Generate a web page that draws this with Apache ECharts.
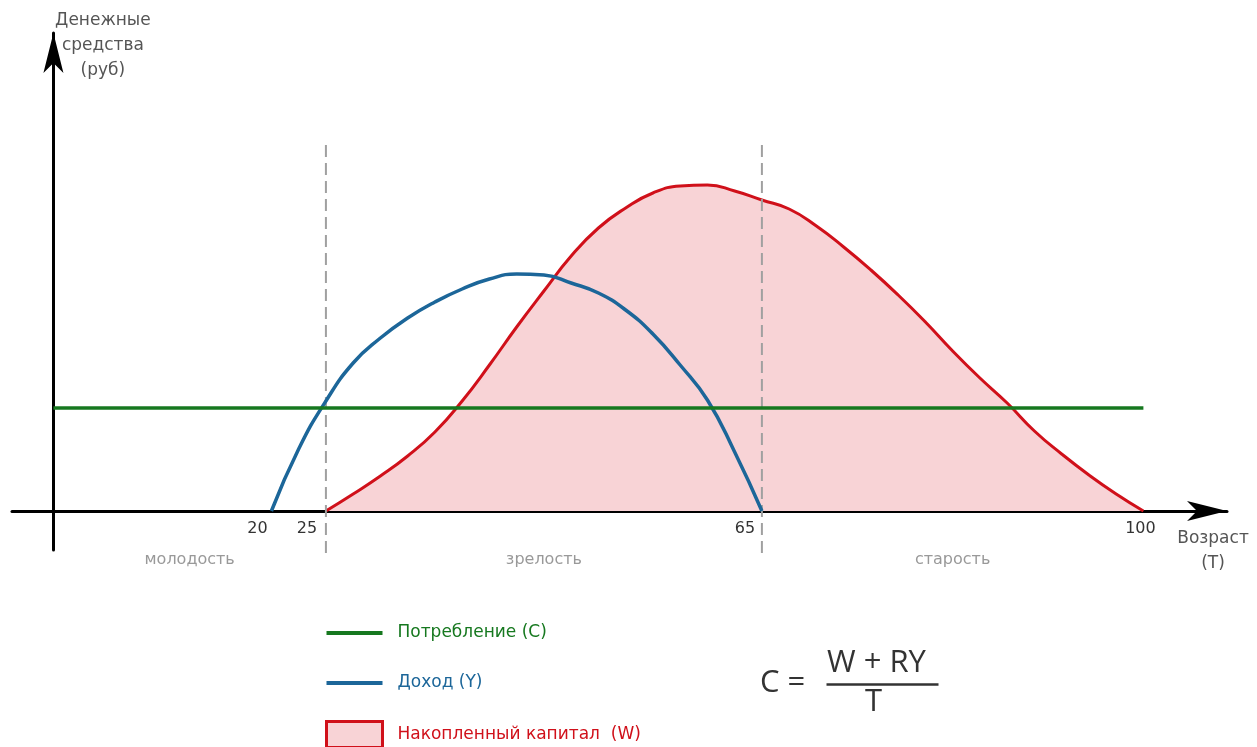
<!DOCTYPE html>
<html>
<head>
<meta charset="utf-8">
<script src="https://cdn.jsdelivr.net/npm/echarts@6/dist/echarts.min.js"></script>
<style>
  html, body { margin: 0; padding: 0; background: #fff; }
  #chart { width: 1257px; height: 747px; }
</style>
</head>
<body>
<div id="chart"></div>
<script>
// возраст (лет) и денежные средства (условные единицы)
const consumptionAge = [0, 100];
const consumptionVal = [103, 103];

const incomeAge = [20, 22.5, 25, 27.5, 30, 32.5, 35, 37.5, 40, 42.5, 45, 47.5, 50, 52.5, 55, 57.5, 60, 62.5, 65];
const incomeVal = [0, 62, 110, 148, 173, 193, 209, 222, 232, 237, 236, 228, 218, 201, 177, 146, 111, 59, 0];

const capitalAge = [25, 27.5, 30, 32.5, 35, 37.5, 40, 42.5, 45, 47.5, 50, 52.5, 55, 57.5, 60, 62.5, 65,
  67.5, 70, 72.5, 75, 77.5, 80, 82.5, 85, 87.5, 90, 92.5, 95, 97.5, 100];
const capitalVal = [0, 17, 35, 55, 79, 110, 146, 184, 220, 255, 283, 303, 318, 325, 326, 320, 311,
  302, 285, 264, 241, 216, 189, 160, 133, 108, 80, 57, 36, 17, 0];

const tickAges = [20, 25, 65, 100];
const boundaryAges = [25, 65];
const phaseNames = ["молодость", "зрелость", "старость"];
const phaseAges = [12.5, 45, 82.5];

const GREEN = "#16781f";
const BLUE = "#1c6699";
const RED = "#d0101a";
const PINK = "#f8d3d6";
const FONT = "DejaVu Sans";

const zip = (xs, ys) => xs.map((x, i) => [x, ys[i]]);

// сдвиг подписей делений влево, как на рисунке
const tickStyle = { 20: "a", 25: "b", 65: "c", 100: "d" };
const tickText = { fontFamily: FONT, fontSize: 16, color: "#333" };

const chart = echarts.init(document.getElementById("chart"));

const dashSeries = boundaryAges.map((age) => ({
  type: "line",
  silent: true,
  clip: false,
  symbol: "none",
  z: 3,
  data: [[age, 366], [age, -44]],
  lineStyle: { color: "#a0a0a0", width: 2, type: [12, 6] },
}));

chart.setOption({
  animation: false,
  grid: { left: 12, right: 30, top: 33, bottom: 197, containLabel: false, outerBoundsMode: "none" },
  legend: {
    orient: "vertical",
    left: 325,
    top: 620,
    height: 140,
    padding: 0,
    itemWidth: 56,
    itemHeight: 26,
    itemGap: 24,
    selectedMode: false,
    textStyle: { fontFamily: FONT, fontSize: 17, lineHeight: 26, padding: [0, 0, 0, 10] },
    data: [
      { name: "Потребление (С)", icon: "path://M0 0H56V4H0Z", textStyle: { color: GREEN } },
      { name: "Доход (Y)", icon: "path://M0 0H56V4H0Z", textStyle: { color: BLUE } },
      {
        name: "Накопленный капитал  (W)",
        icon: "rect",
        itemStyle: { color: PINK, borderColor: RED, borderWidth: 3 },
        textStyle: { color: RED },
      },
    ],
  },
  xAxis: {
    type: "value",
    min: -3.8,
    max: 107.67,
    name: "Возраст\n(T)",
    nameLocation: "end",
    nameGap: -14,
    nameTextStyle: {
      fontFamily: FONT, fontSize: 17, color: "#555", lineHeight: 25,
      align: "center", verticalAlign: "top", padding: [15, 0, 0, 0],
    },
    axisLine: {
      onZero: true,
      symbol: ["none", "arrow"],
      symbolSize: [15, 40],
      lineStyle: { color: "#000", width: 3 },
    },
    axisTick: { show: false },
    splitLine: { show: false },
    axisLabel: {
      customValues: tickAges,
      margin: -29,
      fontFamily: FONT,
      fontSize: 16,
      formatter: (v) => "{" + tickStyle[v] + "|" + v + "}",
      rich: {
        a: { ...tickText, padding: [0, 28, 0, 0] },
        b: { ...tickText, padding: [0, 38, 0, 0] },
        c: { ...tickText, padding: [0, 34, 0, 0] },
        d: { ...tickText, padding: [0, 6, 0, 0] },
      },
    },
  },
  yAxis: {
    type: "value",
    min: -39,
    max: 478,
    name: "Денежные\nсредства\n(руб)",
    nameLocation: "end",
    nameGap: 25,
    nameTextStyle: {
      fontFamily: FONT, fontSize: 17, color: "#555", lineHeight: 25,
      align: "center", verticalAlign: "top", padding: [0, 0, 0, 99],
    },
    axisLine: {
      onZero: true,
      symbol: ["none", "arrow"],
      symbolSize: [15, 40],
      lineStyle: { color: "#000", width: 3 },
    },
    axisTick: { show: false },
    axisLabel: { show: false },
    splitLine: { show: false },
  },
  series: [
    ...dashSeries,
    {
      name: "Накопленный капитал  (W)",
      type: "line",
      smooth: 0.5,
      symbol: "none",
      z: 2,
      data: zip(capitalAge, capitalVal),
      lineStyle: { color: RED, width: 3 },
      itemStyle: { color: RED },
      areaStyle: { color: PINK, opacity: 1 },
    },
    {
      name: "Доход (Y)",
      type: "line",
      smooth: 0.5,
      symbol: "none",
      z: 4,
      data: zip(incomeAge, incomeVal),
      lineStyle: { color: BLUE, width: 3.5 },
      itemStyle: { color: BLUE },
    },
    {
      name: "Потребление (С)",
      type: "line",
      symbol: "none",
      z: 5,
      data: zip(consumptionAge, consumptionVal),
      lineStyle: { color: GREEN, width: 3.5 },
      itemStyle: { color: GREEN },
    },
    {
      type: "scatter",
      silent: true,
      clip: false,
      symbolSize: 0,
      data: phaseNames.map((n, i) => ({ name: n, value: [phaseAges[i], -49] })),
      label: {
        show: true,
        position: "inside",
        formatter: "{b}",
        fontFamily: FONT,
        fontSize: 16,
        color: "#808080",
      },
    },
  ],
  graphic: [
    {
      type: "text", left: 760, top: 668,
      style: { text: "C =", font: "31px 'Open Sans'", fill: "#333" },
    },
    {
      type: "text", left: 827, top: 648,
      style: { text: "W + RY", font: "31px 'Open Sans'", fill: "#333" },
    },
    {
      type: "line", left: 824, top: 682,
      shape: { x1: 0, y1: 0, x2: 112, y2: 0 },
      style: { stroke: "#333", lineWidth: 2.5 },
    },
    {
      type: "text", left: 865, top: 687,
      style: { text: "T", font: "31px 'Open Sans'", fill: "#333" },
    },
  ],
});
</script>
</body>
</html>
